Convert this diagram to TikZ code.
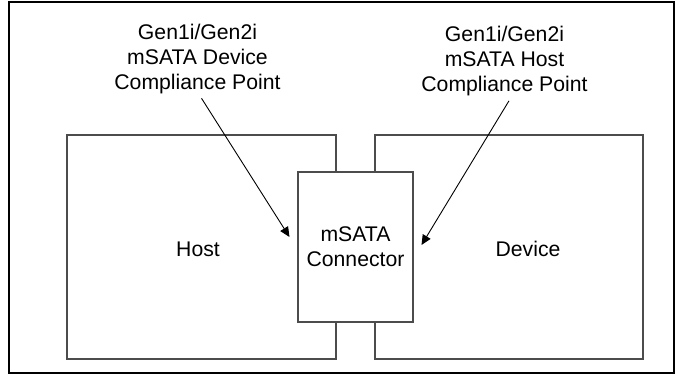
\documentclass[tikz,border=0pt]{standalone}
\usepackage{fontspec}
\setmainfont{Liberation Sans}
\usetikzlibrary{arrows.meta}
\begin{document}
\begin{tikzpicture}[x=0.5pt,y=-0.5pt,
        box/.style={draw=black!70, line width=0.6pt, inner sep=0pt},
        lbl/.style={align=center, inner sep=0pt, font=\fontsize{10.6}{12.5}\selectfont},
        pointer/.style={-{Triangle[length=5pt,width=4.5pt]}, line width=0.45pt}]
        \useasboundingbox (0,0) rectangle (683,376);
        \draw[black, line width=1.3pt] (9,2) rectangle (674,373);
        \node[box, minimum width=134.5pt, minimum height=112pt] (host) at (201.5,247) {};
        \node[box, minimum width=134pt, minimum height=112pt] (device) at (509,247) {};
        \node[box, fill=white, lbl, minimum width=57.5pt, minimum height=75pt] (conn) at (355.5,247) {mSATA\\Connector};
        \node[lbl] (hostlbl) at (198,249) {Host};
        \node[lbl] (devlbl) at (528,249) {Device};
        \node[lbl] (devpt) at (197.5,59) {Gen1i/Gen2i\\mSATA Device\\Compliance Point};
        \node[lbl] (hostpt) at (504.5,61.5) {Gen1i/Gen2i\\mSATA Host\\Compliance Point};
        \coordinate (devtip) at (289.5,237);
        \coordinate (hosttip) at (421.5,245);
        \draw[pointer] (devpt.south) ++(4,4) -- (devtip);
        \draw[pointer] (hostpt.south) ++(4.5,4) -- (hosttip);
\end{tikzpicture}
\end{document}
